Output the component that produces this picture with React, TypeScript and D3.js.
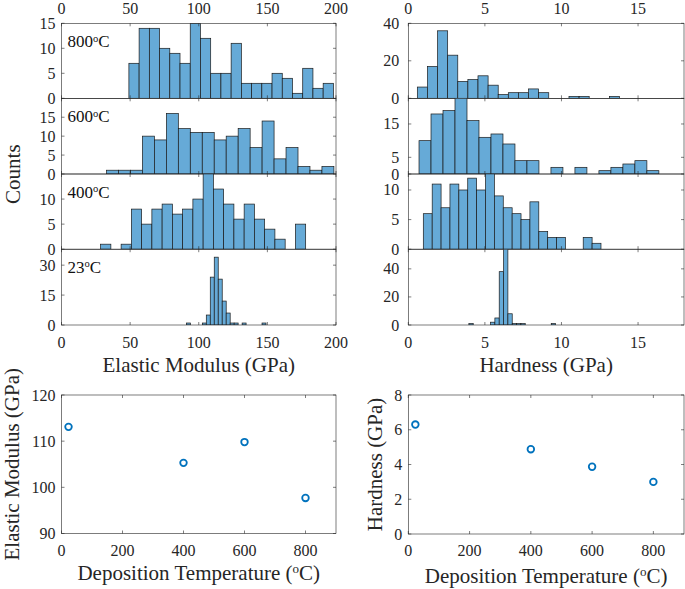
import React from 'react';
import * as d3 from 'd3';

// ---------- DATA ----------
const panelTemps = ['800', '600', '400', '23'];

// Elastic modulus histograms (GPa)
const emBinStart = [49.1, 32.8, 28.5, 91.0];
const emBinWidth = [7.45, 8.72, 7.47, 2.9];
const em800 = [7, 14, 14, 10, 9, 7, 15, 12, 5, 5, 11, 3, 3, 3, 5, 4, 1, 6, 2, 3];
const em600 = [1, 1, 1, 10, 9, 16, 12, 11, 11, 9, 10, 12, 7, 14, 4, 7, 2, 1, 2];
const em400 = [1, 0, 1, 8, 5, 8, 9, 7, 8, 10, 17, 12, 9, 6, 9, 6, 4, 2, 0, 5];
const em23 = [1, 0, 0, 0, 1, 5, 24, 34, 23, 12, 6, 1, 1, 0, 1, 0, 0, 0, 0, 1];
const emYMax = [15, 20, 15, 38];
const emYTicks = [[0, 5, 10, 15], [0, 5, 10, 15], [0, 5, 10], [0, 15, 30]];
const emXTicks = [0, 50, 100, 150, 200];

// Hardness histograms (GPa)
const hdBinStart = [0.59, 0.70, 0.98, 3.955];
const hdBinWidth = [0.66, 0.783, 0.58, 0.283];
const hd800 = [6, 17, 36, 23, 9, 10, 12, 7, 2, 3, 3, 5, 3, 0, 0, 1, 1, 0, 0, 1];
const hd600 = [10, 18, 19, 25, 16, 11, 12, 9, 4, 4, 0, 2, 0, 2, 0, 1, 2, 3, 4, 1];
const hd400 = [6, 11, 7, 11, 10, 12, 10, 13, 9, 7, 6, 5, 8, 3, 2, 2, 0, 0, 2, 1];
const hd23 = [1, 0, 0, 0, 0, 2, 5, 38, 58, 8, 1, 1, 1, 0, 0, 0, 0, 0, 0, 1];
const hdYMax = [40, 22.7, 12.7, 54];
const hdYTicks = [[0, 20, 40], [0, 5, 15], [0, 5, 10], [0, 20, 40]];
const hdXTicks = [0, 5, 10, 15];

// Mean values vs deposition temperature
const depTemps = [23, 400, 600, 800];
const emMean = [113.1, 105.3, 109.8, 97.7];
const hdMean = [6.3, 4.88, 3.87, 3.0];
const tempTicks = [0, 200, 400, 600, 800];
const emMeanTicks = [90, 100, 110, 120];
const hdMeanTicks = [0, 2, 4, 6, 8];

// ---------- STYLE ----------
const FONT = '"Liberation Serif", "Times New Roman", serif';
const AX = '#262626';
const BAR = '#66AAD7';
const PT = '#0072BD';
const TICK_FS = 16;
const LABEL_FS = 21;
const TL = 3;

type HistProps = {
  id: string;
  x0: number; x1: number; y0: number; y1: number;
  xMax: number; xTicks: number[];
  start: number; width: number; counts: number[];
  yMax: number; yTicks: number[];
  label: string;
  topLabels: boolean; bottomLabels: boolean;
  yLabelGap: number;
};

function Deg({ t }: { t: string }) {
  return (
    <>
      {t}
      <tspan fontSize="0.62em" dy="-0.55em">o</tspan>
      <tspan dy="0.34em">C</tspan>
    </>
  );
}

function HistPanel(p: HistProps) {
  const xs = d3.scaleLinear().domain([0, p.xMax]).range([p.x0, p.x1]);
  const ys = d3.scaleLinear().domain([0, p.yMax]).range([p.y1, p.y0]);
  return (
    <g>
      <clipPath id={p.id}>
        <rect x={p.x0} y={p.y0} width={p.x1 - p.x0} height={p.y1 - p.y0} />
      </clipPath>
      <g clipPath={`url(#${p.id})`}>
        {p.counts.map((c, i) =>
          c > 0 ? (
            <rect key={i}
              x={xs(p.start + i * p.width)}
              width={xs(p.start + (i + 1) * p.width) - xs(p.start + i * p.width)}
              y={ys(c)} height={p.y1 - ys(c)}
              fill={BAR} stroke="#1a1a1a" strokeWidth={0.7} />
          ) : null
        )}
      </g>
      <rect x={p.x0} y={p.y0} width={p.x1 - p.x0} height={p.y1 - p.y0} fill="none" stroke={AX} strokeWidth={0.6} />
      {p.xTicks.map((t) => (
        <g key={'x' + t}>
          <line x1={xs(t)} x2={xs(t)} y1={p.y1} y2={p.y1 - TL} stroke={AX} strokeWidth={0.6} />
          <line x1={xs(t)} x2={xs(t)} y1={p.y0} y2={p.y0 + TL} stroke={AX} strokeWidth={0.6} />
          {p.topLabels && (
            <text x={xs(t)} y={p.y0 - 9} textAnchor="middle" fontSize={TICK_FS} fill={AX}>{t}</text>
          )}
          {p.bottomLabels && (
            <text x={xs(t)} y={p.y1 + 23} textAnchor="middle" fontSize={TICK_FS} fill={AX}>{t}</text>
          )}
        </g>
      ))}
      {p.yTicks.map((t) => (
        <g key={'y' + t}>
          <line x1={p.x0} x2={p.x0 + TL} y1={ys(t)} y2={ys(t)} stroke={AX} strokeWidth={0.6} />
          <line x1={p.x1} x2={p.x1 - TL} y1={ys(t)} y2={ys(t)} stroke={AX} strokeWidth={0.6} />
          <text x={p.x0 - p.yLabelGap} y={ys(t) + 5.5} textAnchor="end" fontSize={TICK_FS} fill={AX}>{t}</text>
        </g>
      ))}
      {p.label !== '' && (
        <text x={p.x0 + 6} y={p.y0 + 24} fontSize={17} fill="#111">
          <Deg t={p.label} />
        </text>
      )}
    </g>
  );
}

type ScatterProps = {
  x0: number; x1: number; y0: number; y1: number;
  xMax: number; xTicks: number[];
  yMin: number; yMax: number; yTicks: number[];
  xs: number[]; ys: number[];
  yLabel: string; yLabelX: number; xLabelY: number;
};

function Scatter(p: ScatterProps) {
  const sx = d3.scaleLinear().domain([0, p.xMax]).range([p.x0, p.x1]);
  const sy = d3.scaleLinear().domain([p.yMin, p.yMax]).range([p.y1, p.y0]);
  return (
    <g>
      <rect x={p.x0} y={p.y0} width={p.x1 - p.x0} height={p.y1 - p.y0} fill="none" stroke={AX} strokeWidth={0.6} />
      {p.xTicks.map((t) => (
        <g key={'x' + t}>
          <line x1={sx(t)} x2={sx(t)} y1={p.y1} y2={p.y1 - TL} stroke={AX} strokeWidth={0.6} />
          <line x1={sx(t)} x2={sx(t)} y1={p.y0} y2={p.y0 + TL} stroke={AX} strokeWidth={0.6} />
          <text x={sx(t)} y={p.y1 + 22} textAnchor="middle" fontSize={TICK_FS} fill={AX}>{t}</text>
        </g>
      ))}
      {p.yTicks.map((t) => (
        <g key={'y' + t}>
          <line x1={p.x0} x2={p.x0 + TL} y1={sy(t)} y2={sy(t)} stroke={AX} strokeWidth={0.6} />
          <line x1={p.x1} x2={p.x1 - TL} y1={sy(t)} y2={sy(t)} stroke={AX} strokeWidth={0.6} />
          <text x={p.x0 - 6} y={sy(t) + 5.5} textAnchor="end" fontSize={TICK_FS} fill={AX}>{t}</text>
        </g>
      ))}
      {p.xs.map((v, i) => (
        <circle key={i} cx={sx(v)} cy={sy(p.ys[i])} r={3.3} fill="none" stroke={PT} strokeWidth={1.8} />
      ))}
      <text x={(p.x0 + p.x1) / 2} y={p.xLabelY} textAnchor="middle" fontSize={LABEL_FS} fill={AX}>
        Deposition Temperature (
        <tspan fontSize="0.62em" dy="-0.55em">o</tspan>
        <tspan dy="0.34em">C)</tspan>
      </text>
      <text transform={`translate(${p.yLabelX},${(p.y0 + p.y1) / 2}) rotate(-90)`} textAnchor="middle" fontSize={LABEL_FS} fill={AX}>
        {p.yLabel}
      </text>
    </g>
  );
}

export default function App() {
  const emCounts = [em800, em600, em400, em23];
  const hdCounts = [hd800, hd600, hd400, hd23];
  const rows = [23.3, 98.3, 174, 249.2, 325];
  const L = { x0: 61.5, x1: 336 };
  const R = { x0: 408.3, x1: 684 };
  return (
    <svg width={685} height={589} style={{ position: 'absolute', left: 0, top: 0, background: '#fff' }}
      fontFamily={FONT}>
      <rect x={0} y={0} width={685} height={589} fill="#fff" />
      {panelTemps.map((t, i) => (
        <HistPanel key={'em' + i} id={'clipem' + i}
          x0={L.x0} x1={L.x1} y0={rows[i]} y1={rows[i + 1]}
          xMax={200} xTicks={emXTicks}
          start={emBinStart[i]} width={emBinWidth[i]} counts={emCounts[i]}
          yMax={emYMax[i]} yTicks={emYTicks[i]} label={t}
          topLabels={i === 0} bottomLabels={i === 3} yLabelGap={6} />
      ))}
      {panelTemps.map((t, i) => (
        <HistPanel key={'hd' + i} id={'cliphd' + i}
          x0={R.x0} x1={R.x1} y0={rows[i]} y1={rows[i + 1]}
          xMax={18} xTicks={hdXTicks}
          start={hdBinStart[i]} width={hdBinWidth[i]} counts={hdCounts[i]}
          yMax={hdYMax[i]} yTicks={hdYTicks[i]} label=""
          topLabels={i === 0} bottomLabels={i === 3} yLabelGap={9} />
      ))}
      <text transform={`translate(20,${(rows[0] + rows[4]) / 2}) rotate(-90)`} textAnchor="middle" fontSize={LABEL_FS} fill={AX}>Counts</text>
      <text x={(L.x0 + L.x1) / 2} y={372} textAnchor="middle" fontSize={LABEL_FS} fill={AX}>Elastic Modulus (GPa)</text>
      <text x={(R.x0 + R.x1) / 2} y={372} textAnchor="middle" fontSize={LABEL_FS} fill={AX}>Hardness (GPa)</text>

      <Scatter x0={L.x0} x1={L.x1} y0={395} y1={533.5} xMax={900} xTicks={tempTicks}
        yMin={90} yMax={120} yTicks={emMeanTicks} xs={depTemps} ys={emMean}
        yLabel="Elastic Modulus (GPa)" yLabelX={19} xLabelY={580} />
      <Scatter x0={R.x0} x1={R.x1} y0={395} y1={534} xMax={900} xTicks={tempTicks}
        yMin={0} yMax={8} yTicks={hdMeanTicks} xs={depTemps} ys={hdMean}
        yLabel="Hardness (GPa)" yLabelX={382} xLabelY={583} />
    </svg>
  );
}
